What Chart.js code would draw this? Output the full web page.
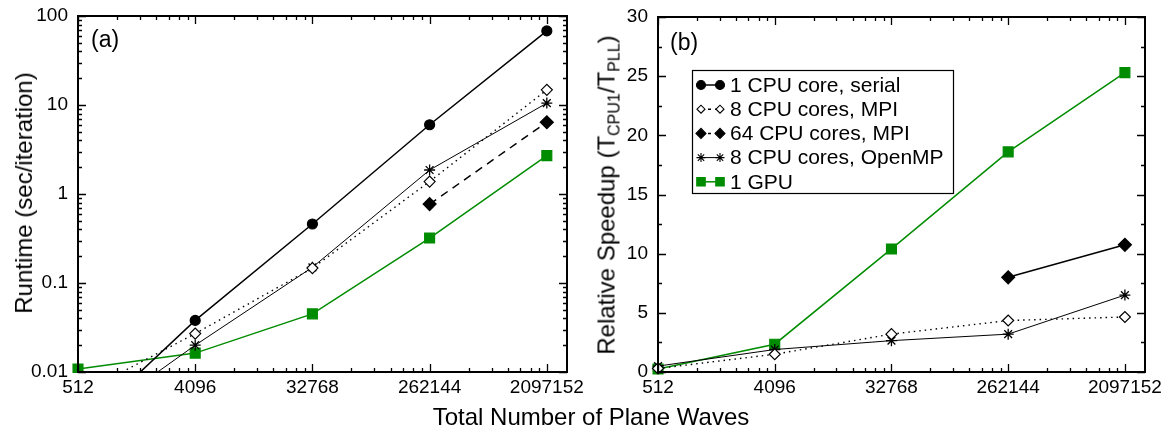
<!DOCTYPE html>
<html>
<head>
<meta charset="utf-8">
<title>Runtime and speedup vs plane waves</title>
<script src="https://cdn.jsdelivr.net/npm/chart.js@4.4.1/dist/chart.umd.min.js"></script>
<style>
  body { margin: 0; background: #fff; font-family: "Liberation Sans", Arial, sans-serif; color: #000; }
  #wrap { position: relative; width: 1166px; height: 430px; overflow: hidden; }
  .panel { position: absolute; top: 0; }
  .ytitle { position: absolute; font-size: 24px; white-space: nowrap; transform: translate(-50%, -50%) rotate(-90deg); }
  .ytitle sub { font-size: 16px; vertical-align: -5px; }
  .tag { position: absolute; font-size: 23px; }
  #xTitle { position: absolute; left: 591px; top: 403px; transform: translateX(-50%); font-size: 24px; white-space: nowrap; }
</style>
</head>
<body>
<div id="wrap">
  <div class="panel" style="left:0; width:600px;"><canvas id="runtimeChart" width="600" height="430"></canvas></div>
  <div class="panel" style="left:580px; width:586px;"><canvas id="speedupChart" width="586" height="430"></canvas></div>
  <div class="ytitle" style="left:24px; top:193px;">Runtime (sec/iteration)</div>
  <div class="ytitle" style="left:608px; top:195px;">Relative Speedup (T<sub>CPU1</sub>/T<sub>PLL</sub>)</div>
  <div class="tag" style="left:91px; top:26px;">(a)</div>
  <div class="tag" style="left:670px; top:29px;">(b)</div>
  <div id="xTitle">Total Number of Plane Waves</div>
</div>
<script>
// values
const planeWaves = [512, 4096, 32768, 262144, 2097152];

const runtimeSerial = [0.0022, 0.038, 0.46, 6.0, 68];
const runtimeMpi8 = [0.0055, 0.027, 0.147, 1.38, 14.8];
const runtimeMpi64 = [null, null, null, 0.77, 6.4];
const runtimeOmp8 = [0.0023, 0.02, 0.15, 1.86, 10.5];
const runtimeGpu = [0.0108, 0.0163, 0.045, 0.32, 2.7];

const speedupMpi8 = [0.3, 1.5, 3.2, 4.35, 4.65];
const speedupMpi64 = [null, null, null, 8.0, 10.75];
const speedupOmp8 = [0.5, 1.9, 2.65, 3.2, 6.5];
const speedupGpu = [0.25, 2.35, 10.4, 18.6, 25.3];

const runtimeTicks = [0.01, 0.1, 1, 10, 100];
const speedupTicks = [0, 5, 10, 15, 20, 25, 30];

const GREEN = "#008c00";
const FONT = "'Liberation Sans', Arial, sans-serif";

const seriesStyle = {
  serial: { label: "1 CPU core, serial", color: "#000", fill: "#000", point: "circle", radius: 5, legendRadius: 4.5, width: 1.5, dash: [] },
  mpi8: { label: "8 CPU cores, MPI", color: "#000", fill: "#fff", point: "rectRot", radius: 5.5, legendRadius: 4, width: 1.4, dash: [1.5, 4] },
  mpi64: { label: "64 CPU cores, MPI", color: "#000", fill: "#000", point: "rectRot", radius: 6.5, legendRadius: 5, width: 1.5, dash: [8, 6] },
  omp8: { label: "8 CPU cores, OpenMP", color: "#000", fill: "#000", point: "star", radius: 5.5, legendRadius: 4.5, width: 1, dash: [] },
  gpu: { label: "1 GPU", color: GREEN, fill: GREEN, point: "rect", radius: 7, legendRadius: 6, width: 1.5, dash: [] },
};

Chart.defaults.font.family = FONT;
Chart.defaults.font.size = 19;
Chart.defaults.color = "#000";

function makeDataset(key, values, dashOverride) {
  const s = seriesStyle[key];
  return {
    label: s.label,
    data: planeWaves.map((x, i) => ({ x, y: values[i] })),
    borderColor: s.color,
    backgroundColor: s.fill,
    borderWidth: s.width,
    borderDash: dashOverride || s.dash,
    pointStyle: s.point,
    pointRadius: s.radius,
    pointBorderWidth: s.point === "star" ? 1.3 : 1.2,
    pointBorderColor: s.color,
    pointBackgroundColor: s.fill,
    tension: 0,
    spanGaps: false,
  };
}

// minor tick positions: multiples 2..7 between base-8 majors, 2..9 in y decades
function base8Minors(majors, max) {
  const out = [];
  majors.forEach((m) => { for (let k = 2; k <= 7; k++) if (m * k < max) out.push(m * k); });
  return out;
}
function decadeMinors(majors) {
  const out = [];
  majors.slice(0, -1).forEach((m) => { for (let k = 2; k <= 9; k++) out.push(m * k); });
  return out;
}

const frameTicks = {
  id: "frameTicks",
  afterDatasetsDraw(chart, args, opts) {
    const { ctx, chartArea: a } = chart;
    const x = chart.scales.x;
    const y = chart.scales.y;
    ctx.save();
    ctx.strokeStyle = "#000";
    ctx.lineWidth = 1.3;
    ctx.beginPath();
    const vTick = (v, len) => {
      const p = Math.round(x.getPixelForValue(v)) + 0.5;
      ctx.moveTo(p, a.bottom); ctx.lineTo(p, a.bottom - len);
      ctx.moveTo(p, a.top); ctx.lineTo(p, a.top + len);
    };
    const hTick = (v, len) => {
      const p = Math.round(y.getPixelForValue(v)) + 0.5;
      ctx.moveTo(a.left, p); ctx.lineTo(a.left + len, p);
      ctx.moveTo(a.right, p); ctx.lineTo(a.right - len, p);
    };
    opts.xMajor.forEach((v) => vTick(v, 8));
    opts.xMinor.forEach((v) => vTick(v, 4));
    opts.yMajor.forEach((v) => hTick(v, 8));
    opts.yMinor.forEach((v) => hTick(v, 4));
    ctx.stroke();
    ctx.lineWidth = 2;
    ctx.strokeRect(a.left, a.top, a.width, a.height);
    ctx.restore();
  },
};

const boxLegend = {
  id: "boxLegend",
  afterDraw(chart, args, opts) {
    if (!opts.entries) return;
    const { ctx } = chart;
    ctx.save();
    ctx.fillStyle = "#fff";
    ctx.fillRect(opts.left, opts.top, opts.width, opts.height);
    ctx.strokeStyle = "#000";
    ctx.lineWidth = 1.2;
    ctx.strokeRect(opts.left + 0.5, opts.top + 0.5, opts.width, opts.height);
    ctx.font = `21px ${FONT}`;
    ctx.textBaseline = "middle";
    opts.entries.forEach((key, i) => {
      const s = seriesStyle[key];
      const cy = opts.top + 15 + i * 24.2;
      const x1 = opts.left + 9;
      const x2 = opts.left + 28;
      ctx.strokeStyle = s.color;
      ctx.lineWidth = s.width;
      ctx.setLineDash(s.dash.length ? [3, 4] : []);
      ctx.beginPath();
      ctx.moveTo(x1, cy);
      ctx.lineTo(x2, cy);
      ctx.stroke();
      ctx.setLineDash([]);
      [x1, x2].forEach((px) => {
        ctx.fillStyle = s.fill;
        ctx.strokeStyle = s.color;
        ctx.lineWidth = 1.1;
        Chart.helpers.drawPoint(ctx, { pointStyle: s.point, radius: s.legendRadius, rotation: 0, borderWidth: 1.1 }, px, cy);
      });
      ctx.fillStyle = "#000";
      ctx.fillText(s.label, opts.left + 38, cy + 1);
    });
    ctx.restore();
  },
};

function axisX(max) {
  return {
    type: "logarithmic",
    min: 512,
    max: max,
    afterBuildTicks: (scale) => { scale.ticks = planeWaves.map((v) => ({ value: v })); },
    afterFit: (scale) => { scale.height = 58; },
    ticks: { autoSkip: false, maxRotation: 0, padding: -4, callback: (v) => String(v) },
    grid: { display: false },
    border: { display: false },
  };
}

const xMax = 3000000;

new Chart(document.getElementById("runtimeChart"), {
  type: "line",
  data: {
    datasets: [
      makeDataset("serial", runtimeSerial),
      makeDataset("mpi8", runtimeMpi8),
      makeDataset("mpi64", runtimeMpi64),
      makeDataset("omp8", runtimeOmp8),
      makeDataset("gpu", runtimeGpu),
    ].map((d) => ({ ...d, clip: { left: 10, right: 10, top: 10, bottom: 1 } })),
  },
  options: {
    responsive: false,
    animation: false,
    layout: { padding: { top: 16, right: 33, bottom: 0, left: 0 } },
    plugins: {
      legend: { display: false },
      tooltip: { enabled: false },
      frameTicks: {
        xMajor: planeWaves, xMinor: base8Minors(planeWaves, xMax),
        yMajor: runtimeTicks, yMinor: decadeMinors(runtimeTicks),
      },
    },
    scales: {
      x: axisX(xMax),
      y: {
        type: "logarithmic",
        min: 0.01,
        max: 100,
        afterBuildTicks: (scale) => { scale.ticks = runtimeTicks.map((v) => ({ value: v })); },
        afterFit: (scale) => { scale.width = 78; },
        ticks: { padding: 2, callback: (v) => String(v) },
        grid: { display: false },
        border: { display: false },
      },
    },
  },
  plugins: [frameTicks],
});

new Chart(document.getElementById("speedupChart"), {
  type: "line",
  data: {
    datasets: [
      makeDataset("mpi8", speedupMpi8),
      makeDataset("mpi64", speedupMpi64, []),
      makeDataset("omp8", speedupOmp8),
      makeDataset("gpu", speedupGpu),
    ].map((d) => ({ ...d, clip: { left: 10, right: 10, top: 10, bottom: 8 } })),
  },
  options: {
    responsive: false,
    animation: false,
    layout: { padding: { top: 17, right: 21, bottom: 0, left: 0 } },
    plugins: {
      legend: { display: false },
      tooltip: { enabled: false },
      frameTicks: {
        xMajor: planeWaves, xMinor: base8Minors(planeWaves, xMax),
        yMajor: speedupTicks, yMinor: speedupTicks.slice(0, -1).map((v) => v + 2.5),
      },
      boxLegend: {
        entries: ["serial", "mpi8", "mpi64", "omp8", "gpu"],
        left: 112, top: 70, width: 261, height: 123,
      },
    },
    scales: {
      x: axisX(xMax),
      y: {
        type: "linear",
        min: 0,
        max: 30,
        afterBuildTicks: (scale) => { scale.ticks = speedupTicks.map((v) => ({ value: v })); },
        afterFit: (scale) => { scale.width = 78; },
        ticks: { padding: 2 },
        grid: { display: false },
        border: { display: false },
      },
    },
  },
  plugins: [frameTicks, boxLegend],
});
</script>
</body>
</html>
